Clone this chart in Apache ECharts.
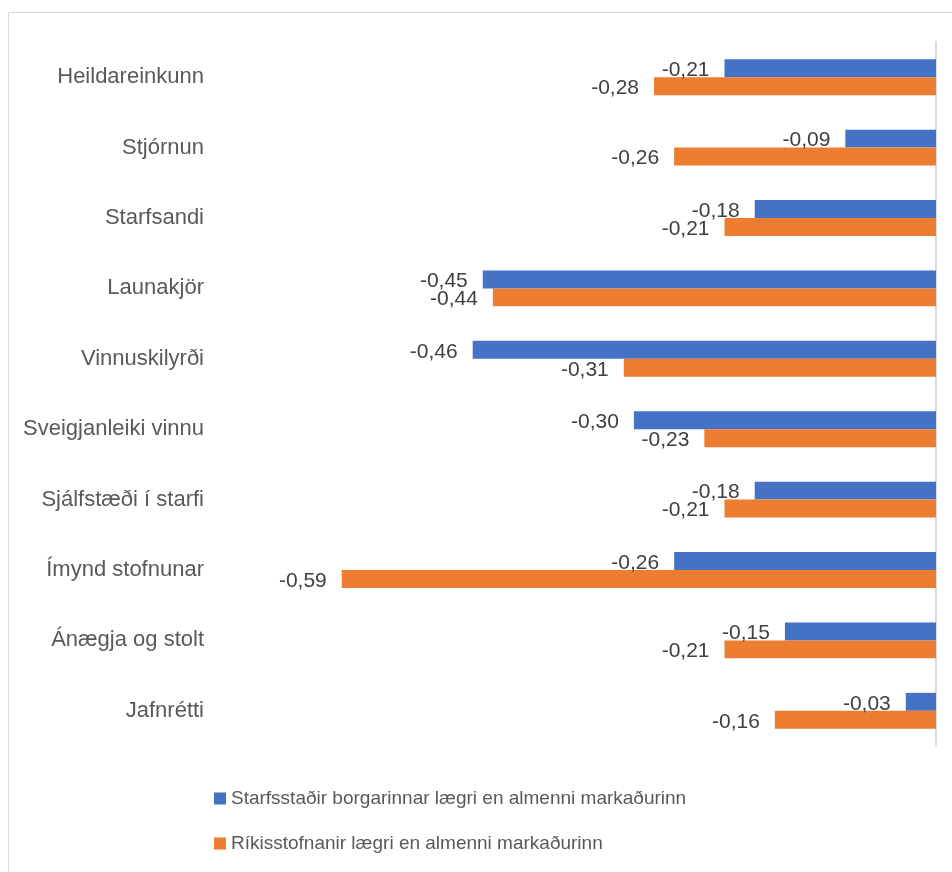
<!DOCTYPE html>
<html>
<head>
<meta charset="utf-8">
<script src="https://cdn.jsdelivr.net/npm/echarts@6/dist/echarts.min.js"></script>
<style>html,body{margin:0;padding:0;background:#fff;}#c{width:952px;height:872px;}</style>
</head>
<body>
<div id="c"></div>
<script>
const categories = ["Heildareinkunn","Stjórnun","Starfsandi","Launakjör","Vinnuskilyrði","Sveigjanleiki vinnu","Sjálfstæði í starfi","Ímynd stofnunar","Ánægja og stolt","Jafnrétti"];
const seriesNames = ["Starfsstaðir borgarinnar lægri en almenni markaðurinn","Ríkisstofnanir lægri en almenni markaðurinn"];
const borgin = [-0.21,-0.09,-0.18,-0.45,-0.46,-0.30,-0.18,-0.26,-0.15,-0.03];
const rikid = [-0.28,-0.26,-0.21,-0.44,-0.31,-0.23,-0.21,-0.59,-0.21,-0.16];

const chart = echarts.init(document.getElementById('c'));
const fmt = p => p.value.toFixed(2).replace('.', ',');
const lbl = {show:true, position:'left', distance:15, offset:[0,2], formatter:fmt, color:'#404040', fontSize:21, fontFamily:'Liberation Sans'};
chart.setOption({
  animation:false,
  graphic:[{type:'rect', shape:{x:8.5,y:12.5,width:960,height:880}, style:{fill:'none', stroke:'#d9d9d9', lineWidth:1}, silent:true}],
  grid:{left:231, right:16, top:42, bottom:126},
  xAxis:{type:'value', min:-0.7, max:0, show:false},
  yAxis:[
    {type:'category', data:categories, inverse:true, position:'left', axisLine:{show:false}, axisTick:{show:false},
     axisLabel:{color:'#595959', fontSize:22, fontFamily:'Liberation Sans', margin:27}},
    {type:'category', data:categories, inverse:true, position:'right', axisLine:{show:true, onZero:false, lineStyle:{color:'#d9d9d9', width:2}}, axisTick:{show:false}, axisLabel:{show:false}}
  ],
  legend:{orient:'vertical', left:209, top:784, itemWidth:12, itemHeight:12, itemGap:26, icon:'rect',
    textStyle:{color:'#595959', fontSize:19, fontFamily:'Liberation Sans'}, data:seriesNames},
  series:[
    {name:seriesNames[0], type:'bar', data:borgin, itemStyle:{color:'#4472C4'}, barGap:'0%', barCategoryGap:'49%', label:lbl},
    {name:seriesNames[1], type:'bar', data:rikid, itemStyle:{color:'#ED7D31'}, barGap:'0%', barCategoryGap:'49%', label:lbl}
  ]
});
</script>
</body>
</html>
